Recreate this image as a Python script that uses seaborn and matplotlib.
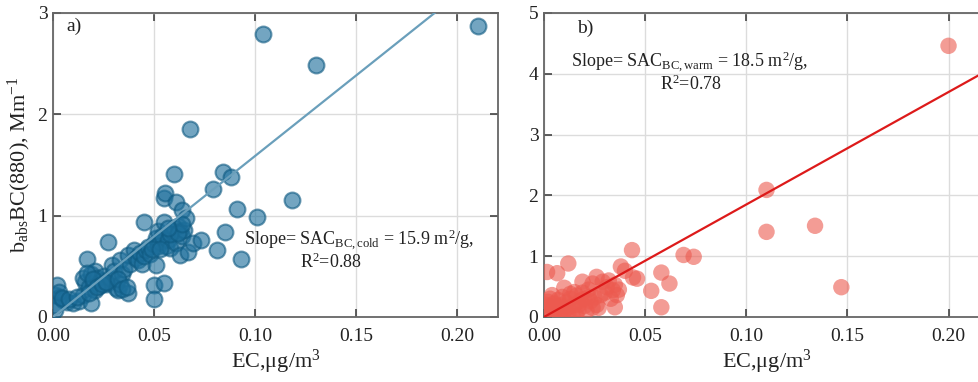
import numpy as np
import pandas as pd
import matplotlib
matplotlib.use("Agg")
import matplotlib.pyplot as plt
import seaborn as sns

# Cold season: EC (ug/m3) vs absorption coefficient of BC at 880 nm (Mm-1)
cold_ec = [0.001, 0.001, 0.002, 0.0035, 0.005, 0.007, 0.010, 0.013, 0.015, 0.016,
           0.015, 0.017, 0.019, 0.018, 0.019, 0.020, 0.021, 0.021, 0.022, 0.023,
           0.024, 0.025, 0.026, 0.027, 0.028, 0.029, 0.030, 0.031, 0.032, 0.033,
           0.033, 0.034, 0.035, 0.037, 0.037, 0.038, 0.040, 0.041, 0.042, 0.043,
           0.044, 0.045, 0.045, 0.046, 0.047, 0.048, 0.050, 0.050, 0.051, 0.050,
           0.051, 0.052, 0.052, 0.053, 0.054, 0.055, 0.055, 0.055, 0.0555, 0.056,
           0.057, 0.058, 0.059, 0.060, 0.060, 0.061, 0.061, 0.062, 0.063, 0.063,
           0.064, 0.064, 0.065, 0.066, 0.067, 0.068, 0.069, 0.073, 0.079, 0.081,
           0.084, 0.085, 0.088, 0.091, 0.093, 0.101, 0.104, 0.118, 0.130, 0.210,
           0.001, 0.003, 0.0045, 0.008, 0.012, 0.017, 0.018, 0.020, 0.022, 0.024,
           0.026, 0.032, 0.034, 0.0365, 0.049, 0.053, 0.058, 0.062, 0.064, 0.057]
cold_babs = [0.07, 0.22, 0.32, 0.20, 0.17, 0.15, 0.14, 0.16, 0.22, 0.35,
             0.38, 0.57, 0.14, 0.30, 0.42, 0.34, 0.27, 0.45, 0.38, 0.31,
             0.36, 0.40, 0.33, 0.74, 0.38, 0.51, 0.45, 0.29, 0.27, 0.33,
             0.56, 0.42, 0.47, 0.24, 0.61, 0.52, 0.66, 0.58, 0.56, 0.63,
             0.52, 0.94, 0.60, 0.66, 0.69, 0.62, 0.32, 0.18, 0.51, 0.72,
             0.78, 0.85, 0.70, 0.74, 0.80, 0.94, 0.34, 1.17, 1.22, 0.70,
             0.76, 0.68, 0.85, 0.88, 1.41, 1.13, 0.73, 0.90, 0.61, 0.85,
             1.06, 0.80, 0.86, 0.98, 0.64, 1.86, 0.73, 0.76, 1.26, 0.66,
             1.43, 0.84, 1.38, 1.07, 0.57, 0.99, 2.79, 1.155, 2.49, 2.87,
             0.12, 0.25, 0.19, 0.18, 0.20, 0.43, 0.24, 0.37, 0.30, 0.33,
             0.35, 0.37, 0.28, 0.30, 0.67, 0.67, 0.82, 0.83, 0.92, 0.88]

# Warm season
warm_ec = [0.200, 0.110, 0.110, 0.134, 0.147, 0.069, 0.074, 0.0435, 0.058, 0.062,
           0.053, 0.058, 0.038, 0.040, 0.044, 0.046, 0.012, 0.0065, 0.0015, 0.035,
           0.027, 0.026, 0.019, 0.029, 0.031, 0.035, 0.034, 0.036, 0.028, 0.022,
           0.015, 0.010, 0.001, 0.002, 0.002, 0.003, 0.004, 0.005, 0.006, 0.007,
           0.008, 0.008, 0.009, 0.010, 0.011, 0.012, 0.013, 0.014, 0.015, 0.016,
           0.017, 0.018, 0.019, 0.020, 0.021, 0.022, 0.023, 0.024, 0.025, 0.026,
           0.030, 0.032, 0.033, 0.037, 0.003, 0.001, 0.004, 0.006, 0.012, 0.016,
           0.005, 0.009, 0.013, 0.017, 0.020, 0.024]
warm_babs = [4.46, 2.09, 1.40, 1.50, 0.49, 1.02, 0.99, 1.10, 0.73, 0.55,
             0.43, 0.16, 0.83, 0.76, 0.65, 0.63, 0.88, 0.72, 0.74, 0.16,
             0.15, 0.66, 0.58, 0.58, 0.49, 0.53, 0.44, 0.36, 0.36, 0.33,
             0.41, 0.48, 0.05, 0.12, 0.25, 0.18, 0.08, 0.22, 0.14, 0.28,
             0.05, 0.19, 0.33, 0.10, 0.24, 0.15, 0.30, 0.05, 0.20, 0.35,
             0.12, 0.27, 0.40, 0.18, 0.10, 0.45, 0.26, 0.55, 0.32, 0.20,
             0.40, 0.60, 0.30, 0.45, 0.30, 0.20, 0.36, 0.04, 0.05, 0.02,
             0.02, 0.15, 0.38, 0.20, 0.30, 0.15]

slope_cold = 15.9
slope_warm = 18.5
r2_cold = 0.88
r2_warm = 0.78

x_ticks = [0.00, 0.05, 0.10, 0.15, 0.20]
x_tick_labels = ["0.00", "0.05", "0.10", "0.15", "0.20"]

sns.set_theme(style="white")
plt.rcParams["font.family"] = ["Liberation Serif", "DejaVu Serif"]
plt.rcParams["mathtext.fontset"] = "custom"
plt.rcParams["mathtext.rm"] = "Liberation Serif"
plt.rcParams["mathtext.it"] = "Liberation Serif:italic"

fig = plt.figure(figsize=(9.79, 3.82), dpi=100)
ax1 = fig.add_axes([0.0541, 0.1702, 0.4545, 0.7958])
ax2 = fig.add_axes([0.5557, 0.1702, 0.4545, 0.7958])

cold = pd.DataFrame({"EC": cold_ec, "babs": cold_babs})
warm = pd.DataFrame({"EC": warm_ec, "babs": warm_babs})

fit_x = np.array([0.0, 0.22])
fit_cold = pd.DataFrame({"EC": fit_x, "babs": slope_cold * fit_x})
fit_warm = pd.DataFrame({"EC": fit_x, "babs": slope_warm * fit_x})

sns.scatterplot(data=cold, x="EC", y="babs", ax=ax1, s=130, color="#1d6f9c",
                alpha=0.62, edgecolor="#0f5a82", linewidth=1.5, zorder=3)
sns.lineplot(data=fit_cold, x="EC", y="babs", ax=ax1, color="#6a9fbb",
             linewidth=1.6, zorder=4)

sns.scatterplot(data=warm, x="EC", y="babs", ax=ax2, s=140, color="#ec5a4f",
                alpha=0.6, edgecolor="none", linewidth=0, zorder=3)
sns.lineplot(data=fit_warm, x="EC", y="babs", ax=ax2, color="#dd1a1a",
             linewidth=1.6, zorder=4)

for ax, ymax in ((ax1, 3), (ax2, 5)):
    ax.set_xlim(0, 0.22)
    ax.set_ylim(0, ymax)
    ax.set_xticks(x_ticks)
    ax.set_xticklabels(x_tick_labels)
    ax.set_yticks(range(0, ymax + 1))
    ax.grid(True, color="#dcdcdc", linewidth=1.0, zorder=0)
    ax.set_axisbelow(True)
    ax.tick_params(axis="both", which="both", direction="in", length=6,
                   width=1.1, color="#333333", top=True, right=True,
                   bottom=True, left=True, labelsize=14,
                   labelcolor="#222222")
    ax.tick_params(axis="x", pad=8)
    ax.tick_params(axis="y", pad=4)
    for sp in ax.spines.values():
        sp.set_color("#666666")
        sp.set_linewidth(1.3)
    ax.set_xlabel(r"EC,$\mathrm{\mu}$g/m$^3$", fontsize=16, color="#222222",
                  labelpad=2)
    ax.set_ylabel("")

ax1.set_ylabel(r"b$_{\mathrm{abs}}$BC(880), Mm$^{\mathrm{-1}}$", fontsize=16,
               color="#222222", labelpad=3)

ax1.text(0.0065, 2.87, "a)", fontsize=14, color="#222222", va="center")
ax2.text(0.0165, 4.75, "b)", fontsize=14, color="#222222", va="center")

ax1.text(0.0945, 0.76, r"Slope= SAC$_{\mathrm{BC,cold}}$ = %.1f m$^2$/g," % slope_cold,
         fontsize=13, color="#222222", va="center", ha="left")
ax1.text(0.1375, 0.54, r"R$^2$=%.2f" % r2_cold, fontsize=13, color="#222222",
         va="center", ha="center")

ax2.text(0.0135, 4.2, r"Slope= SAC$_{\mathrm{BC,warm}}$ = %.1f m$^2$/g," % slope_warm,
         fontsize=13, color="#222222", va="center", ha="left")
ax2.text(0.0725, 3.82, r"R$^2$=%.2f" % r2_warm, fontsize=13, color="#222222",
         va="center", ha="center")

fig.savefig("out.png", dpi=100)
